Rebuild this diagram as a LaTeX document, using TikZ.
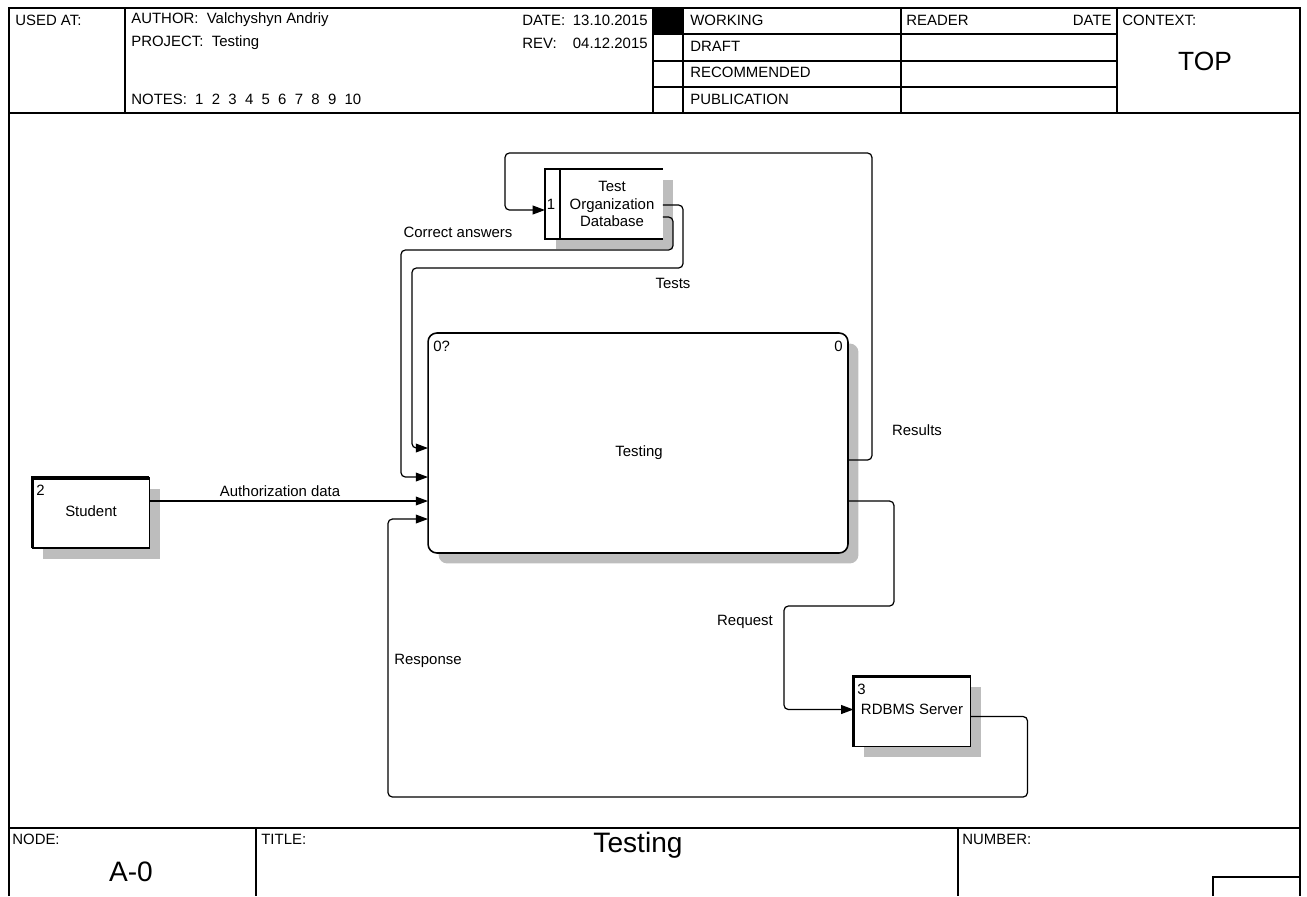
\documentclass[tikz,border=0pt]{standalone}
\usepackage{fontspec}
\setmainfont{Liberation Sans}
\usetikzlibrary{positioning, arrows.meta, calc, shadows}
\definecolor{shadowgray}{HTML}{BDBDBD}

\begin{document}
\begin{tikzpicture}[x=0.02cm, y=-0.02cm,
    every node/.style={font=\fontsize{8.5}{10.2}\selectfont, inner sep=0pt},
    frame/.style={line width=0.8pt},
    flow/.style={line width=0.7pt, rounded corners=2.5pt, -{Triangle[length=7pt, width=5pt]}},
    boxshadow/.style={drop shadow={shadow xshift=0.21cm, shadow yshift=-0.21cm, fill=shadowgray, opacity=1}},
    activity/.style={draw, line width=0.9pt, fill=white, rounded corners=5pt, boxshadow, outer sep=0pt},
    extbox/.style={draw, line width=0.7pt, fill=white, boxshadow, outer sep=0pt, minimum width=2.34cm, minimum height=1.4cm},
  ]
  \useasboundingbox (0,0) rectangle (1307,896);
  % Form frame, header and footer
  \draw[frame] (9,896) -- (9,8) -- (1300,8) -- (1300,896);
  \draw[frame] (9,113) -- (1300,113) (9,828) -- (1300,828);
  \foreach \x in {125, 653, 683, 901, 1117} \draw[frame] (\x,8) -- (\x,113);
  \foreach \y in {34, 61, 87} \draw[frame] (653,\y) -- (1117,\y);
  \fill[black] (653,8) rectangle (683,34);
  \draw[frame] (256,828) -- (256,896) (958,828) -- (958,896);
  \draw[frame] (1213,896) -- (1213,877) -- (1300,877);
  % Header texts
  \node[anchor=west] (usedat) at (15,20) {USED AT:};
  \node[anchor=west] (author) at (131,20) {AUTHOR:\ \ Valchyshyn Andriy};
  \node[anchor=west] (project) at (131,43) {PROJECT:\ \ Testing};
  \node[anchor=west] (notes) at (131,99) {NOTES:\ \ 1\ \ 2\ \ 3\ \ 4\ \ 5\ \ 6\ \ 7\ \ 8\ \ 9\ \ 10};
  \node[anchor=west] (date-lbl) at (522,20) {DATE:};
  \node[anchor=east] (date-val) at (648,20) {13.10.2015};
  \node[anchor=west] (rev-lbl) at (522,43) {REV:};
  \node[anchor=east] (rev-val) at (648,43) {04.12.2015};
  \foreach \y/\txt in {20/WORKING, 46/DRAFT, 72/RECOMMENDED, 99/PUBLICATION}
    \node[anchor=west] (status-\txt) at (690,\y) {\txt};
  \node[anchor=west] (reader) at (906,20) {READER};
  \node[anchor=east] (reader-date) at (1112,20) {DATE};
  \node[anchor=west] (context) at (1122,20) {CONTEXT:};
  \node[font=\fontsize{15}{18}\selectfont] (context-val) at (1205,61) {TOP};
  % Activity box
  \node[activity, minimum width=8.4cm, minimum height=4.4cm] (testing) at (638,443) {};
  \node (testing-txt) at (639,453) {Testing};
  \node[anchor=west] (testing-id) at (433,346) {0?};
  \node[anchor=east] (testing-no) at (843,346) {0};
  % Data store
  \node[fill=white, boxshadow, minimum width=2.36cm, minimum height=1.4cm, outer sep=0pt] (db) at (604,204) {};
  \draw[line width=0.7pt] (db.north east) -- (db.north west) -- (db.south west) -- (db.south east);
  \draw[line width=0.7pt] ($(db.north west)+(15,0)$) -- ($(db.south west)+(15,0)$);
  \node[align=center] (db-txt) at (612,204) {Test\\Organization\\Database};
  \node (db-id) at (551,204) {1};
  % External entities
  \node[extbox] (student) at (91,513) {};
  \draw[line width=1.8pt] (student.south west) -- (student.north west) -- (student.north east);
  \node[anchor=west] (student-id) at (36,490) {2};
  \node (student-txt) at (91,511) {Student};
  \node[extbox] (rdbms) at (912,711.5) {};
  \draw[line width=1.8pt] (rdbms.south west) -- (rdbms.north west) -- (rdbms.north east);
  \node[anchor=west] (rdbms-id) at (857,689) {3};
  \node (rdbms-txt) at (912,709) {RDBMS Server};
  % Arrows
  \draw[flow] ($(testing.north east)+(0,127)$) -- ++(24,0) |- (505,153) |- ($(db.north west)+(0,41)$);
  \draw[flow] ($(db.north east)+(0,36)$) -- ++(20,0) |- (412,268) |- ($(testing.north west)+(0,115)$);
  \draw[flow] ($(db.north east)+(0,48)$) -- ++(10,0) |- (401,250) |- ($(testing.north west)+(0,144)$);
  \draw[flow] ($(student.north east)+(0,23)$) coordinate (auth-out) -- (auth-out -| testing.west);
  \draw[flow] ($(testing.north east)+(0,168)$) -- ++(46,0) |- (784,606) |- ($(rdbms.north west)+(0,33)$);
  \draw[flow] ($(rdbms.north east)+(0,40)$) -- ++(57,0) |- (388,797) |- ($(testing.north west)+(0,186)$);
  % Arrow labels
  \node (lbl-results) at (917,430) {Results};
  \node (lbl-tests) at (673,283) {Tests};
  \node (lbl-correct) at (458,232) {Correct answers};
  \node (lbl-auth) at (280,491) {Authorization data};
  \node (lbl-request) at (745,622) {Request};
  \node (lbl-response) at (428,661) {Response};
  % Footer texts
  \node[anchor=west] (node-lbl) at (12,839) {NODE:};
  \node[font=\fontsize{16}{18}\selectfont] (node-no) at (131,872) {A-0};
  \node[anchor=west] (title-lbl) at (261,839) {TITLE:};
  \node[font=\fontsize{16}{18}\selectfont] (title-txt) at (638,845) {Testing};
  \node[anchor=west] (number-lbl) at (962,839) {NUMBER:};
\end{tikzpicture}
\end{document}
